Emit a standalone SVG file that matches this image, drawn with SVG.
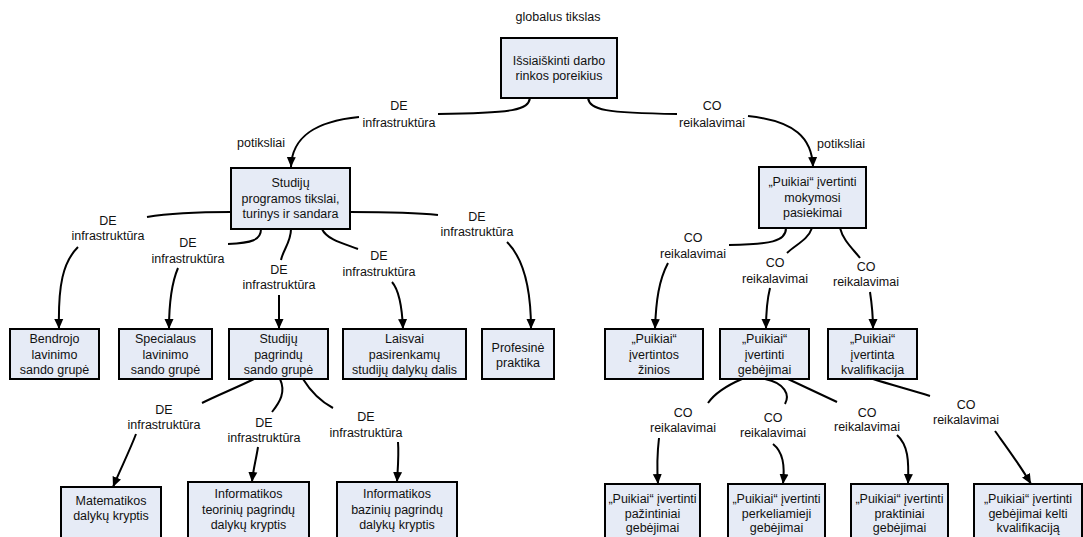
<svg xmlns="http://www.w3.org/2000/svg" width="1083" height="537" viewBox="0 0 1083 537">
<defs>
<marker id="arr" markerUnits="userSpaceOnUse" viewBox="0 0 10 10" refX="10" refY="5" markerWidth="10" markerHeight="10" orient="auto">
<path d="M0,0.5 L10,5 L0,9.5 z" fill="#000"/>
</marker>
<style>
.box{fill:#e6ebf6;stroke:#000;stroke-width:2}
text{font-family:"Liberation Sans",Arial,sans-serif;font-size:12.5px;fill:#111;text-anchor:middle}
.ln{fill:none;stroke:#000;stroke-width:2}
.ar{fill:none;stroke:#000;stroke-width:2;marker-end:url(#arr)}
</style>
</defs>
<rect width="1083" height="537" fill="#fff"/>
<text x="558" y="21">globalus tikslas</text>

<g id="connectors">
<path class="ln" d="M530,98 C528,110 515,113 438,114"/>
<path class="ar" d="M359,117 C318,121 292,135 291,167"/>
<text x="399" y="110">DE</text><text x="399" y="127">infrastruktūra</text>
<text x="261" y="147">potiksliai</text>
<path class="ln" d="M588,98 C590,110 605,113 677,114"/>
<path class="ar" d="M748,116 C795,121 812,138 813,167"/>
<text x="712" y="110">CO</text><text x="712" y="127">reikalavimai</text>
<text x="841" y="148">potiksliai</text>

<path class="ln" d="M231,212 C195,212 165,214 147,217"/>
<path class="ar" d="M78,247 C63,262 58,285 59,329"/>
<text x="108" y="224.5">DE</text><text x="108" y="239.5">infrastruktūra</text>

<path class="ln" d="M261,229 C261,240 252,243 228,244"/>
<path class="ar" d="M178,268 C172,282 169,300 169,329"/>
<text x="188" y="247">DE</text><text x="188" y="263">infrastruktūra</text>

<path class="ln" d="M291,229 C291,242 283,250 281,260"/>
<path class="ar" d="M279,295 L279,329"/>
<text x="279" y="273.5">DE</text><text x="279" y="288.5">infrastruktūra</text>

<path class="ln" d="M322,229 C327,240 345,244 358,249"/>
<path class="ar" d="M392,282 C399,290 402,305 403,329"/>
<text x="379" y="260">DE</text><text x="379" y="276">infrastruktūra</text>

<path class="ln" d="M350,212 C395,212 420,213 438,215"/>
<path class="ar" d="M507,242 C522,257 531,285 531,329"/>
<text x="477" y="221">DE</text><text x="477" y="236">infrastruktūra</text>

<path class="ln" d="M786,228 C786,242 770,244 729,245"/>
<path class="ar" d="M668,263 C659,280 656,300 655,329"/>
<text x="693" y="242">CO</text><text x="693" y="258">reikalavimai</text>

<path class="ln" d="M812,228 C808,240 795,245 787,253"/>
<path class="ar" d="M770,288 C767,300 766,315 766,329"/>
<text x="775" y="267">CO</text><text x="775" y="283">reikalavimai</text>

<path class="ln" d="M840,228 C843,240 852,248 860,258"/>
<path class="ar" d="M870,292 C872,305 873,315 873,329"/>
<text x="866" y="271">CO</text><text x="866" y="286">reikalavimai</text>

<path class="ln" d="M254,379 C238,387 218,395 202,403"/>
<path class="ar" d="M136,434 C130,450 120,470 113,487"/>
<text x="164" y="414">DE</text><text x="164" y="429">infrastruktūra</text>

<path class="ln" d="M280,379 C286,392 280,402 272,412"/>
<path class="ar" d="M258,447 C256,460 253,470 252,482"/>
<text x="264" y="427">DE</text><text x="264" y="442">infrastruktūra</text>

<path class="ln" d="M303,379 C311,392 320,401 333,408"/>
<path class="ar" d="M398,442 C399,455 398,465 397,482"/>
<text x="366" y="421">DE</text><text x="366" y="437">infrastruktūra</text>

<path class="ln" d="M742,379 C728,385 715,393 708,403"/>
<path class="ar" d="M659,438 C657,455 657,470 658,484"/>
<text x="683" y="417">CO</text><text x="683" y="432">reikalavimai</text>

<path class="ln" d="M765,379 C785,383 790,395 785,404"/>
<path class="ar" d="M773,444 C783,452 785,465 783,484"/>
<text x="773" y="422">CO</text><text x="773" y="437">reikalavimai</text>

<path class="ln" d="M788,379 C805,387 820,394 837,402"/>
<path class="ar" d="M897,435 C908,445 909,460 908,484"/>
<text x="867" y="417">CO</text><text x="867" y="431">reikalavimai</text>

<path class="ln" d="M873,379 C892,385 911,390 930,396"/>
<path class="ar" d="M995,431 C1005,445 1020,465 1031,484"/>
<text x="966" y="409">CO</text><text x="966" y="424">reikalavimai</text>
</g>

<g id="root"><rect class="box" x="501" y="38" width="116" height="60"/>
<text x="559" y="65">Išsiaiškinti darbo</text><text x="559" y="80">rinkos poreikius</text></g>

<g id="studiju-programos"><rect class="box" x="231" y="168" width="119" height="61"/>
<text x="290.5" y="187">Studijų</text><text x="290.5" y="202.5">programos tikslai,</text><text x="290.5" y="218">turinys ir sandara</text></g>

<g id="mokymosi-pasiekimai"><rect class="box" x="759" y="167" width="107" height="61"/>
<text x="812.5" y="186">„Puikiai“ įvertinti</text><text x="812.5" y="201.5">mokymosi</text><text x="812.5" y="217">pasiekimai</text></g>

<g id="bendrojo"><rect class="box" x="10" y="329" width="89" height="50"/>
<text x="54.5" y="343">Bendrojo</text><text x="54.5" y="358.5">lavinimo</text><text x="54.5" y="374">sando grupė</text></g>

<g id="specialaus"><rect class="box" x="119" y="329" width="93" height="50"/>
<text x="165.5" y="343">Specialaus</text><text x="165.5" y="358.5">lavinimo</text><text x="165.5" y="374">sando grupė</text></g>

<g id="studiju-pagrindu"><rect class="box" x="229" y="329" width="99" height="50"/>
<text x="278.5" y="343">Studijų</text><text x="278.5" y="358.5">pagrindų</text><text x="278.5" y="374">sando grupė</text></g>

<g id="laisvai"><rect class="box" x="343" y="329" width="123" height="50"/>
<text x="404.5" y="343">Laisvai</text><text x="404.5" y="358.5">pasirenkamų</text><text x="404.5" y="374">studijų dalykų dalis</text></g>

<g id="profesine"><rect class="box" x="482" y="329" width="72" height="50"/>
<text x="518" y="352">Profesinė</text><text x="518" y="367">praktika</text></g>

<g id="zinios"><rect class="box" x="605" y="329" width="98" height="50"/>
<text x="654" y="343">„Puikiai“</text><text x="654" y="358.5">įvertintos</text><text x="654" y="374">žinios</text></g>

<g id="gebejimai"><rect class="box" x="720" y="329" width="89" height="50"/>
<text x="764.5" y="343">„Puikiai“</text><text x="764.5" y="358.5">įvertinti</text><text x="764.5" y="374">gebėjimai</text></g>

<g id="kvalifikacija"><rect class="box" x="828" y="329" width="89" height="50"/>
<text x="872.5" y="343">„Puikiai“</text><text x="872.5" y="358.5">įvertinta</text><text x="872.5" y="374">kvalifikacija</text></g>

<g id="matematikos"><rect class="box" x="61" y="487" width="100" height="58"/>
<text x="111" y="505">Matematikos</text><text x="111" y="520">dalykų kryptis</text></g>

<g id="inf-teoriniu"><rect class="box" x="188" y="482" width="121" height="63"/>
<text x="248.5" y="498">Informatikos</text><text x="248.5" y="513.5">teorinių pagrindų</text><text x="248.5" y="529">dalykų kryptis</text></g>

<g id="inf-baziniu"><rect class="box" x="337" y="482" width="120" height="63"/>
<text x="397" y="498">Informatikos</text><text x="397" y="513.5">bazinių pagrindų</text><text x="397" y="529">dalykų kryptis</text></g>

<g id="pazintiniai"><rect class="box" x="605" y="484" width="95" height="61"/>
<text x="652.5" y="502.5">„Puikiai“ įvertinti</text><text x="652.5" y="517.5">pažintiniai</text><text x="652.5" y="532">gebėjimai</text></g>

<g id="perkeliamieji"><rect class="box" x="728" y="484" width="97" height="61"/>
<text x="776.5" y="502.5">„Puikiai“ įvertinti</text><text x="776.5" y="517.5">perkeliamieji</text><text x="776.5" y="532">gebėjimai</text></g>

<g id="praktiniai"><rect class="box" x="851" y="484" width="97" height="61"/>
<text x="899.5" y="502.5">„Puikiai“ įvertinti</text><text x="899.5" y="517.5">praktiniai</text><text x="899.5" y="532">gebėjimai</text></g>

<g id="kelti"><rect class="box" x="974" y="484" width="108" height="61"/>
<text x="1028" y="502.5">„Puikiai“ įvertinti</text><text x="1028" y="517.5">gebėjimai kelti</text><text x="1028" y="532">kvalifikaciją</text></g>
</svg>
